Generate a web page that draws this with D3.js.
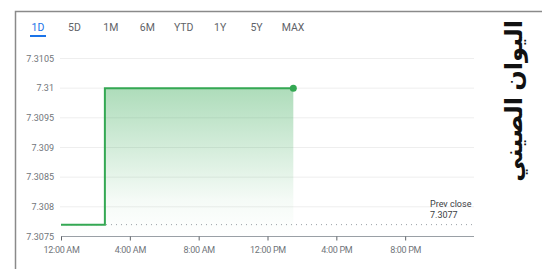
<!DOCTYPE html>
<html>
<head>
<meta charset="utf-8">
<script src="https://cdn.jsdelivr.net/npm/d3@7"></script>
<style>
  body { margin: 0; background: #fff; }
  svg { display: block; font-family: Roboto, Arial, sans-serif; }
</style>
</head>
<body>
<div id="chart"></div>
<script>
const tabs = ['1D', '5D', '1M', '6M', 'YTD', '1Y', '5Y', 'MAX'];
const hours = [0, 2.55, 13.5];
const rates = [7.3077, 7.31, 7.31];
const prevClose = 7.3077;
const yTicks = [7.3075, 7.308, 7.3085, 7.309, 7.3095, 7.31, 7.3105];
const xTicks = [0, 4, 8, 12, 16, 20];
const xTickLabels = ['12:00 AM', '4:00 AM', '8:00 AM', '12:00 PM', '4:00 PM', '8:00 PM'];

const width = 542;
const height = 269;

const svg = d3.select('#chart')
  .append('svg')
  .attr('width', width)
  .attr('height', height);

// frame
svg.append('path')
  .attr('d', 'M15.5,269 V11.5 H542')
  .attr('fill', 'none')
  .attr('stroke', '#8a8a8a')
  .attr('stroke-width', 1.5);

// range tabs
const tabX = d3.scalePoint().domain(tabs).range([38, 293]);
svg.append('g')
  .selectAll('text')
  .data(tabs)
  .enter()
  .append('text')
  .attr('x', (d) => tabX(d))
  .attr('y', 31)
  .attr('text-anchor', 'middle')
  .style('font-size', '10.5px')
  .style('fill', (d) => (d === '1D' ? '#1a73e8' : '#5f6368'))
  .text((d) => d);
svg.append('rect')
  .attr('x', tabX('1D') - 8)
  .attr('y', 35)
  .attr('width', 16)
  .attr('height', 2)
  .attr('fill', '#1a73e8');

const x = d3.scaleLinear().domain([0, 24]).range([61, 474]);
const y = d3.scaleLinear().domain([7.3075, 7.3105]).range([236.5, 58.5]);

// grid
svg.append('g')
  .selectAll('line')
  .data(yTicks.slice(1))
  .enter()
  .append('line')
  .attr('x1', 60)
  .attr('x2', 474)
  .attr('y1', (d) => y(d))
  .attr('y2', (d) => y(d))
  .attr('stroke', '#eeeeee')
  .attr('stroke-width', 1);

// y labels
svg.append('g')
  .selectAll('text')
  .data(yTicks)
  .enter()
  .append('text')
  .attr('x', 54)
  .attr('y', (d) => y(d))
  .attr('dy', '0.35em')
  .attr('text-anchor', 'end')
  .style('font-size', '9px')
  .style('fill', '#70757a')
  .text((d) => d);

// x axis
const xAxis = d3.axisBottom(x)
  .tickValues(xTicks)
  .tickSize(4)
  .tickFormat((d, i) => xTickLabels[i]);
const gx = svg.append('g')
  .attr('transform', `translate(0,${y(7.3075)})`)
  .call(xAxis);
gx.select('.domain').attr('stroke', '#9aa0a6').attr('d', `M${x(0)},0H${x(24)}`);
gx.selectAll('.tick line').attr('stroke', '#5f6368');
gx.selectAll('.tick text')
  .attr('dy', '1.1em')
  .style('font-size', '9px')
  .style('font-family', 'Roboto, Arial, sans-serif')
  .style('letter-spacing', '-0.3px')
  .style('fill', '#70757a');

// gradient
const defs = svg.append('defs');
const grad = defs.append('linearGradient')
  .attr('id', 'fillGrad')
  .attr('x1', 0).attr('y1', 0).attr('x2', 0).attr('y2', 1);
grad.append('stop').attr('offset', '0%').attr('stop-color', '#34a853').attr('stop-opacity', 0.4);
grad.append('stop').attr('offset', '75%').attr('stop-color', '#34a853').attr('stop-opacity', 0.05);
grad.append('stop').attr('offset', '100%').attr('stop-color', '#34a853').attr('stop-opacity', 0);

const points = hours.map((h, i) => [h, rates[i]]);

const area = d3.area()
  .curve(d3.curveStepAfter)
  .x((d) => x(d[0]))
  .y0(y(7.3075))
  .y1((d) => y(d[1]));

svg.append('path')
  .datum(points)
  .attr('d', area)
  .attr('fill', 'url(#fillGrad)');

// prev close dotted line
svg.append('line')
  .attr('x1', x(0))
  .attr('x2', 474)
  .attr('y1', y(prevClose))
  .attr('y2', y(prevClose))
  .attr('stroke', '#9aa0a6')
  .attr('stroke-width', 1)
  .attr('stroke-dasharray', '1,4');

const line = d3.line()
  .curve(d3.curveStepAfter)
  .x((d) => x(d[0]))
  .y((d) => y(d[1]));

svg.append('path')
  .datum(points)
  .attr('d', line)
  .attr('fill', 'none')
  .attr('stroke', '#34a853')
  .attr('stroke-width', 2);

const last = points[points.length - 1];
svg.append('circle')
  .attr('cx', x(last[0]))
  .attr('cy', y(last[1]))
  .attr('r', 3.5)
  .attr('fill', '#34a853');

// prev close label
const pc = svg.append('text')
  .attr('x', 430)
  .attr('y', 207)
  .style('font-size', '9px')
  .style('fill', '#3c4043');
pc.append('tspan').attr('x', 430).text('Prev close');
pc.append('tspan').attr('x', 430).attr('dy', '1.2em').text(prevClose);

// vertical arabic title
svg.append('text')
  .attr('transform', 'translate(514,20) rotate(-90)')
  .attr('text-anchor', 'start')
  .attr('dy', '0.35em')
  .attr('direction', 'rtl')
  .style('font-family', '"Noto Sans", "DejaVu Sans", sans-serif')
  .style('font-weight', 'bold')
  .style('font-size', '24px')
  .style('fill', '#111')
  .text('اليوان الصيني');
</script>
</body>
</html>
